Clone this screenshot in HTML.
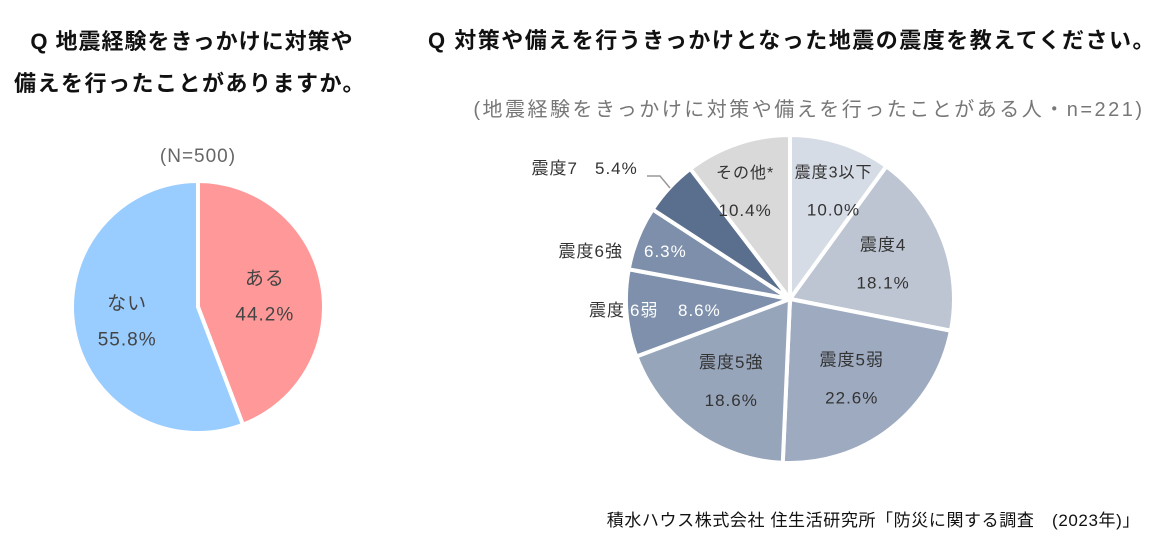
<!DOCTYPE html>
<html><head><meta charset="utf-8"><style>
body{margin:0;width:1173px;height:551px;background:#fff;overflow:hidden;font-family:"Liberation Sans","Noto Sans CJK JP",sans-serif;}
svg text{font-family:"Liberation Sans","Noto Sans CJK JP",sans-serif;}
</style></head><body>
<svg width="1173" height="551">
<text x="192" y="49" font-size="22" font-weight="bold" fill="#111" text-anchor="middle" letter-spacing="1">Q  地震経験をきっかけに対策や</text>
<text x="190" y="91" font-size="22" font-weight="bold" fill="#111" text-anchor="middle" letter-spacing="1.5">備えを行ったことがありますか。</text>
<text x="198" y="162" font-size="19" fill="#666" text-anchor="middle" letter-spacing="1">(N=500)</text>
<text x="792" y="48" font-size="22" font-weight="bold" fill="#111" text-anchor="middle" letter-spacing="1.5">Q  対策や備えを行うきっかけとなった地震の震度を教えてください。</text>
<text x="809" y="116" font-size="20" fill="#777" text-anchor="middle" letter-spacing="2.5">(地震経験をきっかけに対策や備えを行ったことがある人・n=221)</text>
<text x="1140" y="526" font-size="17" fill="#111" text-anchor="end" letter-spacing="0.6">積水ハウス株式会社 住生活研究所「防災に関する調査　(2023年)」</text>
<g id="left"></g>
<g id="right"></g>
</svg>
<script>
const leftCats=["ある","ない"];
const leftVals=[44.2,55.8];
const leftColors=["#FF9999","#99CCFF"];
const rightCats=["震度3以下","震度4","震度5弱","震度5強","震度6弱","震度6強","震度7","その他*"];
const rightVals=[10.0,18.1,22.6,18.6,8.6,6.3,5.4,10.4];
const rightColors=["#D6DCE5","#BDC5D3","#9DAABF","#97A5BB","#7E90AB","#7D8FAA","#5A6E8E","#D9D9D9"];
const NS="http://www.w3.org/2000/svg";
function pt(cx,cy,r,a){return [cx+r*Math.sin(a),cy-r*Math.cos(a)];}
function pie(g,cx,cy,r,vals,colors,cats,name){
  const tot=vals.reduce((a,b)=>a+b,0);let a0=0;const out=[];
  vals.forEach((v,i)=>{const a1=a0+v/tot*2*Math.PI;
    const p0=pt(cx,cy,r,a0),p1=pt(cx,cy,r,a1);
    const p=document.createElementNS(NS,"path");
    p.setAttribute("d",`M${cx},${cy}L${p0[0]},${p0[1]}A${r},${r} 0 ${a1-a0>Math.PI?1:0} 1 ${p1[0]},${p1[1]}Z`);
    p.setAttribute("fill",colors[i]);p.setAttribute("stroke","#fff");p.setAttribute("stroke-width","4");
    
    
    g.appendChild(p);out.push((a0+a1)/2);a0=a1;});
  return out;
}
function txt(g,x,y,s,fill,size,nm,anchor){const t=document.createElementNS(NS,"text");
  t.setAttribute("x",x);t.setAttribute("y",y);t.setAttribute("font-size",size);t.setAttribute("fill",fill);
  t.setAttribute("letter-spacing","1");
  t.setAttribute("text-anchor",anchor||"middle");t.textContent=s;
  
  
  g.appendChild(t);}
const L=document.getElementById("left");
const lm=pie(L,198,307,126,leftVals,leftColors,leftCats,"left");
lm.forEach((m,i)=>{const p=pt(198,307,70,m);
  txt(L,p[0]-2,p[1]-10,leftCats[i],"#444",19,"left-label-"+i);
  txt(L,p[0]-2,p[1]+26,leftVals[i].toFixed(1)+"%","#444",19,"left-value-"+i);});
const R=document.getElementById("right");
const cx=790,cy=299,r=164;
const rm=pie(R,cx,cy,r,rightVals,rightColors,rightCats,"right");
const inside=[0,1,2,3,7];
const dx={0:8,7:-8};
inside.forEach(i=>{const p=pt(cx,cy,i==0||i==7?115:100,rm[i]);const x=p[0]+(dx[i]||0);
  txt(R,x,p[1]-12,rightCats[i],"#333",i==0||i==7?16:17,"right-label-"+i);
  txt(R,x,p[1]+26,rightVals[i].toFixed(1)+"%","#333",17,"right-value-"+i);});
txt(R,623,257,rightCats[5],"#333",17,"right-label-5","end");
txt(R,644,257,rightVals[5].toFixed(1)+"%","#fff",17,"right-value-5","start");
txt(R,625,316,"震度","#333",17,"right-label-4","end");
txt(R,630,316,"6弱","#fff",17,"right-label-4b","start");
txt(R,678,316,rightVals[4].toFixed(1)+"%","#fff",17,"right-value-4","start");
txt(R,578,174,rightCats[6],"#333",17,"right-label-6","end");
txt(R,595,174,rightVals[6].toFixed(1)+"%","#333",17,"right-value-6","start");
const ln=document.createElementNS(NS,"polyline");
ln.setAttribute("points","647,176 660,176 670,188");ln.setAttribute("fill","none");ln.setAttribute("stroke","#999");ln.setAttribute("stroke-width","1.5");


R.appendChild(ln);
</script>
</body></html>
